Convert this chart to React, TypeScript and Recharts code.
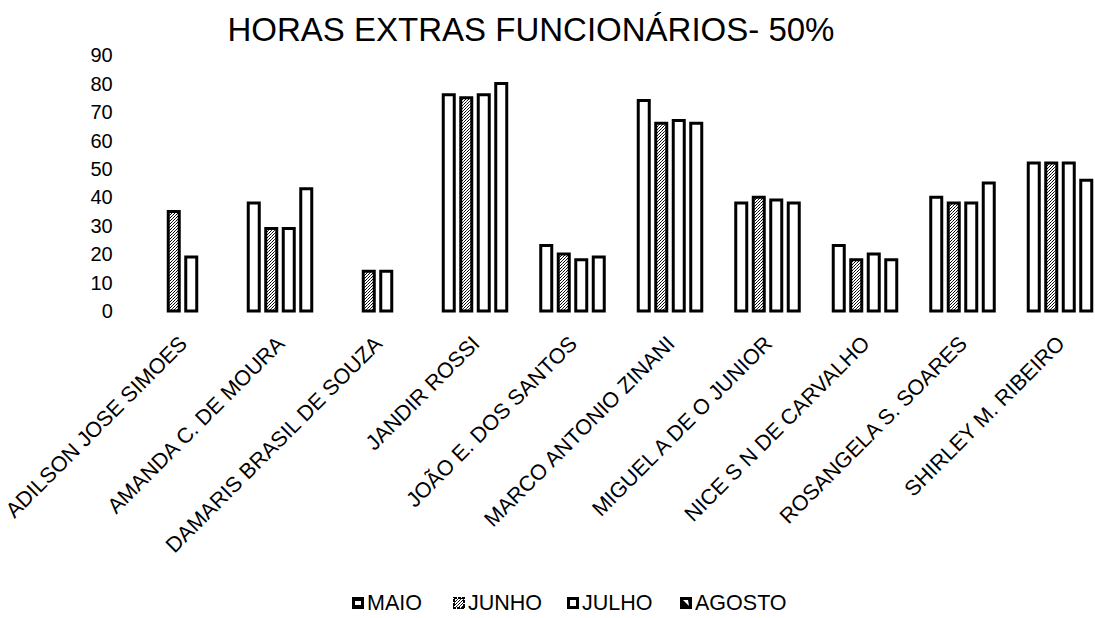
import React from 'react';
import { BarChart, Bar, XAxis, YAxis, Legend } from 'recharts';

const categories = [
  'ADILSON JOSE SIMOES',
  'AMANDA C. DE MOURA',
  'DAMARIS BRASIL DE SOUZA',
  'JANDIR ROSSI',
  'JOÃO E. DOS SANTOS',
  'MARCO ANTONIO ZINANI',
  'MIGUEL A DE O JUNIOR',
  'NICE S N DE CARVALHO',
  'ROSANGELA  S. SOARES',
  'SHIRLEY M. RIBEIRO',
];
const maio = [null, 38, null, 76, 23, 74, 38, 23, 40, 52];
const junho = [35, 29, 14, 75, 20, 66, 40, 18, 38, 52];
const julho = [19, 29, 14, 76, 18, 67, 39, 20, 38, 52];
const agosto = [null, 43, null, 80, 19, 66, 38, 18, 45, 46];
const yTicks = [0, 10, 20, 30, 40, 50, 60, 70, 80, 90];
const seriesNames = ['MAIO', 'JUNHO', 'JULHO', 'AGOSTO'];
const titleText = 'HORAS EXTRAS FUNCIONÁRIOS- 50%';

const data = categories.map((name, i) => ({
  name,
  MAIO: maio[i],
  JUNHO: junho[i],
  JULHO: julho[i],
  AGOSTO: agosto[i],
}));

const FONT = '"Liberation Sans", Arial, sans-serif';

const XTick = (props: any) => {
  const { x, y, payload } = props;
  const px = x + 6;
  const py = y + 34;
  return (
    <text
      x={px}
      y={py}
      transform={`rotate(-45, ${px}, ${py})`}
      textAnchor="end"
      fontSize={21.5}
      fontFamily={FONT}
      fill="#000"
    >
      {payload.value}
    </text>
  );
};

const YTick = (props: any) => {
  const { x, y, payload } = props;
  return (
    <text
      x={x - 21}
      y={y}
      dy="0.36em"
      textAnchor="end"
      fontSize={20}
      fontFamily={FONT}
      fill="#000"
    >
      {payload.value}
    </text>
  );
};

const Marker = ({ kind }: { kind: string }) => {
  if (kind === 'MAIO') {
    return (
      <svg width={12} height={12} style={{ display: 'block' }}>
        <rect x={0} y={0} width={12} height={12} fill="#000" />
        <rect x={3} y={4} width={6} height={4} fill="#fff" />
      </svg>
    );
  }
  if (kind === 'JUNHO') {
    return (
      <svg width={12} height={12} style={{ display: 'block' }}>
        <rect x={0} y={0} width={12} height={12} fill="url(#speckle)" />
        <rect x={1} y={1} width={10} height={10} fill="none" stroke="#000" strokeWidth={2} strokeDasharray="3 1" />
      </svg>
    );
  }
  if (kind === 'JULHO') {
    return (
      <svg width={12} height={12} style={{ display: 'block' }}>
        <rect x={1.5} y={1.5} width={9} height={9} fill="#fff" stroke="#000" strokeWidth={3} />
      </svg>
    );
  }
  return (
    <svg width={12} height={12} style={{ display: 'block' }}>
      <rect x={0} y={0} width={12} height={12} fill="#000" />
      <polygon points="3,3 8,3 9,9" fill="#fff" />
    </svg>
  );
};

const legendLefts = [352, 453, 567, 680];

const renderLegend = () => (
  <div
    style={{
      position: 'relative',
      height: 30,
      fontFamily: FONT,
      fontSize: 21.5,
      color: '#000',
    }}
  >
    {seriesNames.map((n, i) => (
      <div
        key={n}
        style={{
          position: 'absolute',
          left: legendLefts[i],
          top: 0,
          height: 30,
          display: 'flex',
          alignItems: 'center',
          gap: 3,
          whiteSpace: 'nowrap',
        }}
      >
        <Marker kind={n} />
        <span>{n}</span>
      </div>
    ))}
  </div>
);

export default function App() {
  return (
    <div
      style={{
        position: 'absolute',
        left: 0,
        top: 0,
        width: 1095,
        height: 618,
        overflow: 'hidden',
        background: '#fff',
      }}
    >
      <svg width={0} height={0} style={{ position: 'absolute' }}>
        <defs>
          <pattern id="speckle" width={3} height={3} patternUnits="userSpaceOnUse">
            <rect width={3} height={3} fill="#fff" />
            <rect x={0} y={0} width={1} height={1} fill="#000" />
            <rect x={2} y={1} width={1} height={1} fill="#000" />
            <rect x={1} y={2} width={1} height={1} fill="#333" />
          </pattern>
        </defs>
      </svg>
      <div
        style={{
          position: 'absolute',
          left: 0,
          top: 13,
          width: 1062,
          textAlign: 'center',
          fontFamily: FONT,
          fontSize: 33,
          lineHeight: '33px',
          color: '#000',
          whiteSpace: 'nowrap',
        }}
      >
        {titleText}
      </div>
      <div style={{ position: 'absolute', left: 0, top: 0 }}>
        <BarChart
          width={1110}
          height={618}
          data={data}
          margin={{ top: 55, right: 1.25, bottom: 77, left: 73.75 }}
          barSize={11}
          barGap={6.5}
        >
          <XAxis
            dataKey="name"
            axisLine={false}
            tickLine={false}
            tickSize={0}
            tickMargin={0}
            interval={0}
            height={200}
            tick={<XTick />}
          />
          <YAxis
            domain={[0, 90]}
            ticks={yTicks}
            axisLine={false}
            tickLine={false}
            tickSize={0}
            tickMargin={0}
            width={60}
            tick={<YTick />}
          />
          <Legend
            verticalAlign="bottom"
            content={renderLegend}
            wrapperStyle={{ position: 'absolute', top: 588, bottom: 'auto', left: 0, width: 1095, height: 30 }}
          />
          <Bar dataKey="MAIO" fill="#fff" stroke="#000" strokeWidth={3} isAnimationActive={false} />
          <Bar dataKey="JUNHO" fill="url(#speckle)" stroke="#000" strokeWidth={3} isAnimationActive={false} />
          <Bar dataKey="JULHO" fill="#fff" stroke="#000" strokeWidth={3} isAnimationActive={false} />
          <Bar dataKey="AGOSTO" fill="#fff" stroke="#000" strokeWidth={3} isAnimationActive={false} />
        </BarChart>
      </div>
    </div>
  );
}
